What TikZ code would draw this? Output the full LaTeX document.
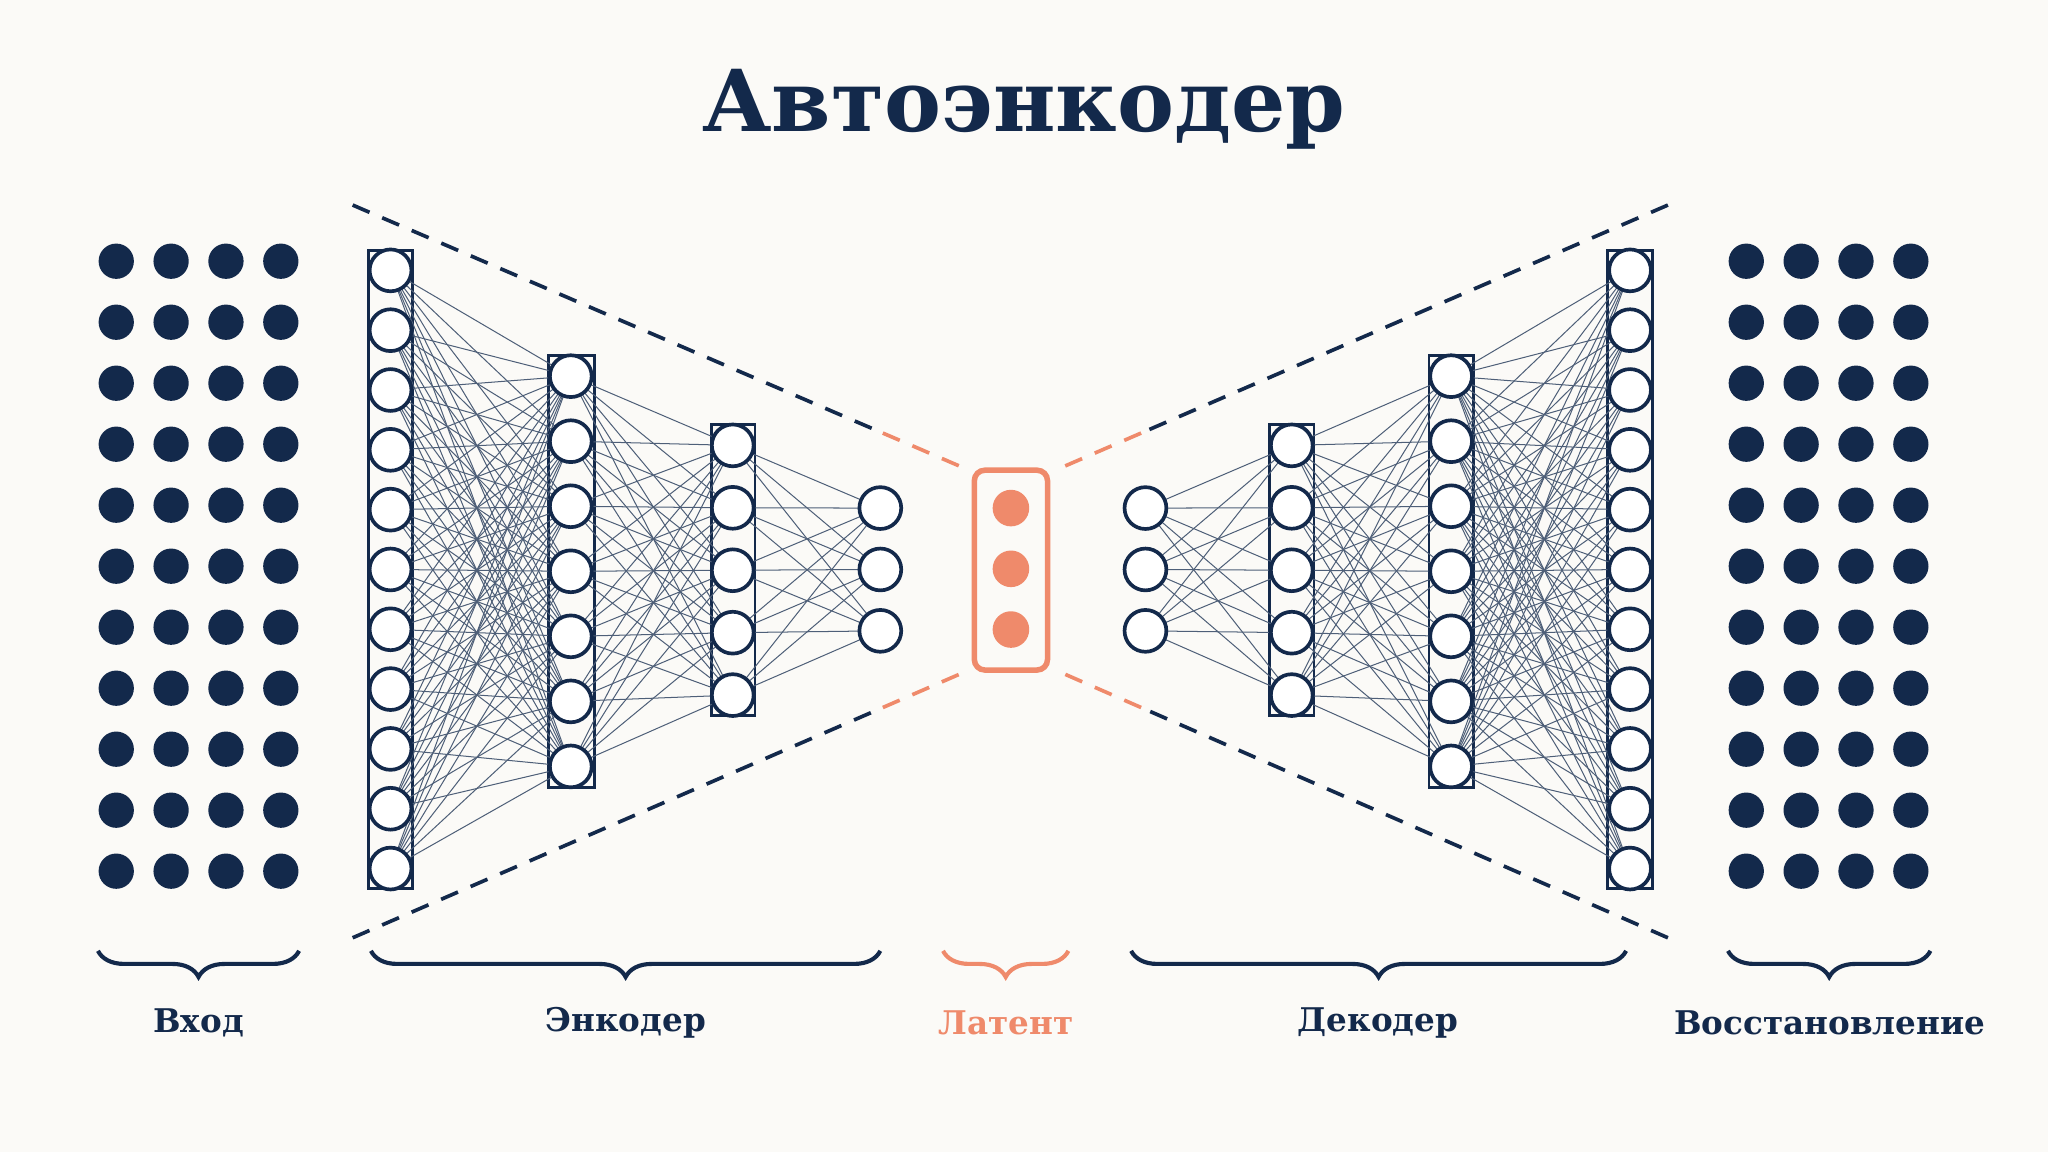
\documentclass[tikz,border=0pt]{standalone}
\usepackage{fontspec}
\setmainfont{DejaVu Serif}
\usetikzlibrary{decorations.pathreplacing,calc}
\definecolor{navy}{HTML}{13294B}
\definecolor{coral}{HTML}{EF8A6B}
\definecolor{paper}{HTML}{FBFAF7}
\tikzset{
  neuron/.style={circle,draw=navy,line width=0.8pt,fill=white,minimum size=0.32cm,inner sep=0pt},
  pixel/.style={circle,fill=navy,minimum size=0.27cm,inner sep=0pt},
  latentdot/.style={circle,fill=coral,minimum size=0.28cm,inner sep=0pt},
  wire/.style={navy!75,line width=0.22pt},
  layerbox/.style={draw=navy,line width=0.6pt},
  guide/.style={dashed,line width=0.8pt,dash pattern=on 4pt off 3pt},
  brace/.style={decorate,decoration={brace,mirror,amplitude=0.2cm},line width=0.9pt},
  caption/.style={font=\bfseries\fontsize{7.1}{8}\selectfont}
}
\begin{document}
\begin{tikzpicture}[x=0.01cm,y=-0.01cm]
	\fill[paper] (0,0) rectangle (1568,882);
	\useasboundingbox (0,0) rectangle (1568,882);

	\node[text=navy,font=\bfseries\fontsize{18.6}{22}\selectfont] (title) at (784,84) {Автоэнкодер};

	% input and reconstruction grids
	\foreach \c/\x in {1/89,2/131,3/173,4/215}
		\foreach \r in {0,...,10} {
			\node[pixel] (in-\c-\r) at (\x,200+46.7*\r) {};
			\node[pixel] (out-\c-\r) at (\x+1248,200+46.7*\r) {};
		}

	% layer boxes
	\draw[layerbox] (282,192) rectangle (316,680);
	\draw[layerbox] (420,272) rectangle (455,603);
	\draw[layerbox] (545,325) rectangle (578,548);
	\draw[layerbox] (1231,192) rectangle (1265,680);
	\draw[layerbox] (1094,272) rectangle (1128,603);
	\draw[layerbox] (972,325) rectangle (1006,548);

	% encoder / decoder neurons
	\foreach \r in {0,...,10} {
		\coordinate (a\r) at (299,207+45.8*\r);
		\coordinate (h\r) at (1248,207+45.8*\r);
	}
	\foreach \r in {0,...,6} {
		\coordinate (b\r) at (437,288+49.8*\r);
		\coordinate (g\r) at (1111,288+49.8*\r);
	}
	\foreach \r in {0,...,4} {
		\coordinate (c\r) at (561,341+47.8*\r);
		\coordinate (f\r) at (989,341+47.8*\r);
	}
	\foreach \r in {0,...,2} {
		\coordinate (d\r) at (674,389+47*\r);
		\coordinate (e\r) at (877,389+47*\r);
	}

	% connections
	\foreach \i in {0,...,10} \foreach \j in {0,...,6} {
		\draw[wire] (a\i) -- (b\j);
		\draw[wire] (h\i) -- (g\j);
	}
	\foreach \i in {0,...,6} \foreach \j in {0,...,4} {
		\draw[wire] (b\i) -- (c\j);
		\draw[wire] (g\i) -- (f\j);
	}
	\foreach \i in {0,...,4} \foreach \j in {0,...,2} {
		\draw[wire] (c\i) -- (d\j);
		\draw[wire] (f\i) -- (e\j);
	}

	\foreach \r in {0,...,10} {
		\node[neuron] (enc1-\r) at (a\r) {};
		\node[neuron] (dec4-\r) at (h\r) {};
	}
	\foreach \r in {0,...,6} {
		\node[neuron] (enc2-\r) at (b\r) {};
		\node[neuron] (dec3-\r) at (g\r) {};
	}
	\foreach \r in {0,...,4} {
		\node[neuron] (enc3-\r) at (c\r) {};
		\node[neuron] (dec2-\r) at (f\r) {};
	}
	\foreach \r in {0,...,2} {
		\node[neuron] (enc4-\r) at (d\r) {};
		\node[neuron] (dec1-\r) at (e\r) {};
	}

	% latent
	\draw[coral,line width=1.2pt,rounded corners=0.08cm] (746,360) rectangle (802,513);
	\foreach \r in {0,...,2}
		\node[latentdot] (lat-\r) at (774,389+46.5*\r) {};

	% funnel guides
	\coordinate (ltop) at (270,157);  \coordinate (lbot) at (270,718);
	\coordinate (rtop) at (1277,157); \coordinate (rbot) at (1277,718);
	\coordinate (lti) at (742,360);   \coordinate (lbi) at (742,513);
	\coordinate (rti) at (808,360);   \coordinate (rbi) at (808,513);
	\draw[guide,navy] (ltop) -- ($(ltop)!0.86!(lti)$);
	\draw[guide,coral] ($(ltop)!0.86!(lti)$) -- (lti);
	\draw[guide,navy] (lbot) -- ($(lbot)!0.86!(lbi)$);
	\draw[guide,coral] ($(lbot)!0.86!(lbi)$) -- (lbi);
	\draw[guide,navy] (rtop) -- ($(rtop)!0.86!(rti)$);
	\draw[guide,coral] ($(rtop)!0.86!(rti)$) -- (rti);
	\draw[guide,navy] (rbot) -- ($(rbot)!0.86!(rbi)$);
	\draw[guide,coral] ($(rbot)!0.86!(rbi)$) -- (rbi);

	% braces and captions
	\draw[brace,navy] (75,728) -- (229,728);
	\draw[brace,navy] (284,728) -- (674,728);
	\draw[brace,coral] (722,728) -- (818,728);
	\draw[brace,navy] (866,728) -- (1245,728);
	\draw[brace,navy] (1323,728) -- (1478,728);
	\node[caption,text=navy] (lin) at (152,783) {Вход};
	\node[caption,text=navy] (lenc) at (479,783) {Энкодер};
	\node[caption,text=coral] (llat) at (770,783) {Латент};
	\node[caption,text=navy] (ldec) at (1055,783) {Декодер};
	\node[caption,text=navy] (lout) at (1401,783) {Восстановление};
\end{tikzpicture}
\end{document}
